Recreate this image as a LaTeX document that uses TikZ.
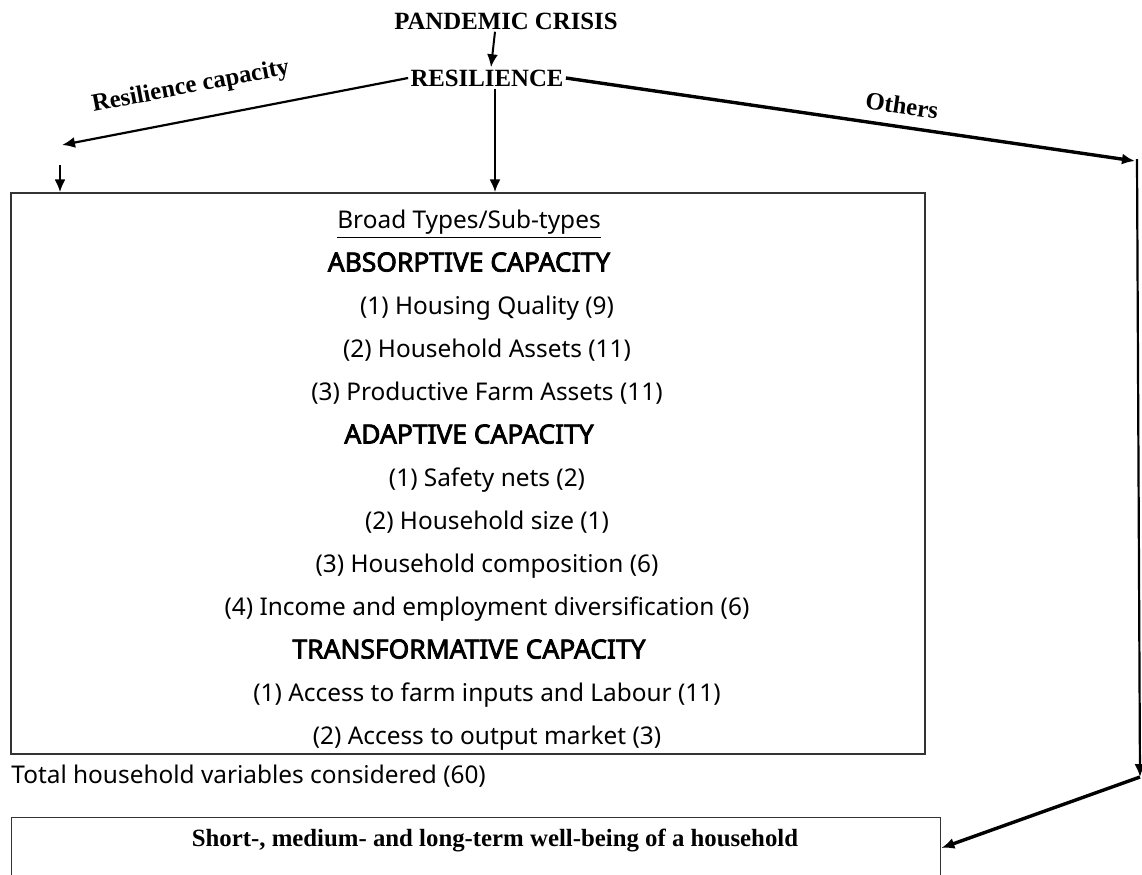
\documentclass[tikz,border=0pt]{standalone}
\usepackage{fontspec}
\setmainfont{Liberation Serif}
\newfontfamily\boxfont{Noto Sans}[AutoFakeBold=3]
\usetikzlibrary{positioning, arrows.meta}

\begin{document}
\begin{tikzpicture}[x=0.5pt,y=-0.5pt,node distance=8.6pt,>={Latex[length=6.5pt,width=5.5pt]},auto]
\tikzstyle{head}=[font=\bfseries\fontsize{12.4}{14}\selectfont,inner sep=1pt]
\tikzstyle{lbl}=[font=\bfseries\fontsize{12.4}{14}\selectfont,inner sep=1pt]
\tikzstyle{frame}=[rectangle,draw=black!80,line width=0.7pt]
\tikzstyle{subtype}=[font=\boxfont\fontsize{12.2}{14}\selectfont,inner sep=0pt,text height=9pt,text depth=3.5pt]
\tikzstyle{broadtype}=[subtype,font=\boxfont\bfseries\fontsize{13.2}{14}\selectfont]
\useasboundingbox (0,0) rectangle (1142,874);
\clip (0,0) rectangle (1142,874);
% top of the chart
\node [head] (crisis) at (506,21) {PANDEMIC CRISIS};
\node [head] (resil) at (487,78) {RESILIENCE};
\draw [->,line width=1pt] ([xshift=-5.5pt]crisis.south) -- ([xshift=2pt]resil.north);
% main box with the capacities
\node [frame,minimum width=457pt,minimum height=280.5pt] (types) at (468,473.5) {};
\node [subtype] (title) at (469,223) {\underline{Broad Types/Sub-types}};
\node [broadtype] (absorp) [below=of title] {ABSORPTIVE CAPACITY};
\node [subtype] (housing) [below=of absorp,xshift=9pt] {(1) Housing Quality (9)};
\node [subtype] (assets) [below=of housing] {(2) Household Assets (11)};
\node [subtype] (farm) [below=of assets] {(3) Productive Farm Assets (11)};
\node [broadtype] (adapt) [below=of farm,xshift=-9pt] {ADAPTIVE CAPACITY};
\node [subtype] (safety) [below=of adapt,xshift=9pt] {(1) Safety nets (2)};
\node [subtype] (size) [below=of safety] {(2) Household size (1)};
\node [subtype] (compo) [below=of size] {(3) Household composition (6)};
\node [subtype] (income) [below=of compo] {(4) Income and employment diversification (6)};
\node [broadtype] (transf) [below=of income,xshift=-9pt] {TRANSFORMATIVE CAPACITY};
\node [subtype] (inputs) [below=of transf,xshift=9pt] {(1) Access to farm inputs and Labour (11)};
\node [subtype] (market) [below=of inputs] {(2) Access to output market (3)};
\node [subtype,anchor=west] (total) at (11,778) {Total household variables considered (60)};
% well-being box
\node [frame,anchor=north west,minimum width=464.5pt,minimum height=50pt] (wb) at (11,817) {};
\node [head] (wbtext) at (495,840) {Short-, medium- and long-term well-being of a household};
% connectors
\coordinate (rcend) at (62,145);
\coordinate (lefttop) at (60,165);
\coordinate (othend) at (1135,161);
\coordinate (rtop) at (1137,159);
\coordinate (rbot) at (1140,777);
\draw [<-,line width=1.1pt] (rcend) -- (resil.west) node [lbl,pos=0.39,sloped,above=9pt] {Resilience capacity};
\draw [->,line width=1.1pt] (lefttop) -- (lefttop |- types.north);
\draw [->,line width=1.1pt] ([xshift=4pt]resil.south) -- ([xshift=4pt]resil.south |- types.north);
\draw [->,line width=1.7pt] (resil.east) -- (othend) node [lbl,pos=0.585,sloped,above=4.5pt] {Others};
\draw [->,line width=1.1pt] (rtop) -- (rbot);
\draw [->,line width=1.7pt] (rbot) -- ([yshift=-4pt]wbtext -| wb.east);
\end{tikzpicture}
\end{document}
